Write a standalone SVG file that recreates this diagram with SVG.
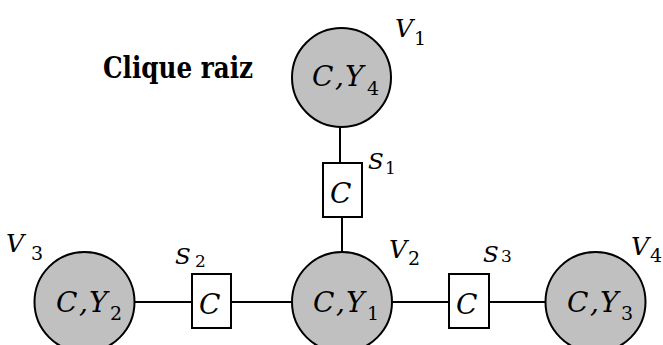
<svg xmlns="http://www.w3.org/2000/svg" width="663" height="345" viewBox="0 0 663 345">
<style>
.clique{fill:#c0c0c0;stroke:#000;stroke-width:2}
.sep{fill:#fff;stroke:#000;stroke-width:2}
.edge{stroke:#000;stroke-width:2;fill:none}
.m{font-style:italic;font-size:28px}
.lab{font-style:italic;font-size:25px}
.slab{font-style:italic;font-size:23px}
.n{font-style:normal}
.sub{font-style:normal;font-size:19px}
.ssub{font-style:normal;font-size:17px}
.title{font-weight:bold;font-size:29px}
</style>
<rect width="663" height="345" fill="#fff"/>
<g id="connectors">
<line class="edge" x1="340" y1="127" x2="340" y2="163"/>
<line class="edge" x1="342" y1="217" x2="342" y2="252"/>
<line class="edge" x1="134" y1="302" x2="192" y2="302"/>
<line class="edge" x1="231" y1="302" x2="292" y2="302"/>
<line class="edge" x1="392" y1="302" x2="449" y2="302"/>
<line class="edge" x1="489" y1="302" x2="546" y2="302"/>
</g>
<g font-family="DejaVu Serif, serif" fill="#000">
<text class="title" x="103" y="78" textLength="150" lengthAdjust="spacingAndGlyphs">Clique raiz</text>
<g id="V1">
<circle class="clique" cx="341.5" cy="77.5" r="49.5"/>
<text class="m" x="312" y="86">C<tspan x="335">,</tspan><tspan x="345">Y</tspan><tspan class="sub" x="367" y="95">4</tspan></text>
<text class="lab" x="395" y="37">V</text>
<text class="sub" x="414" y="45">1</text>
</g>
<g id="V2">
<circle class="clique" cx="342" cy="302" r="50"/>
<text class="m" x="313" y="312">C<tspan x="336">,</tspan><tspan x="346">Y</tspan><tspan class="sub" x="367" y="320">1</tspan></text>
<text class="lab" x="389" y="258">V</text>
<text class="sub" x="408" y="265">2</text>
</g>
<g id="V3">
<circle class="clique" cx="84.5" cy="302" r="50"/>
<text class="m" x="56" y="312">C<tspan x="79">,</tspan><tspan x="89">Y</tspan><tspan class="sub" x="110" y="320">2</tspan></text>
<text class="lab" x="6" y="252">V</text>
<text class="sub" x="31" y="260">3</text>
</g>
<g id="V4">
<circle class="clique" cx="595.5" cy="302" r="50"/>
<text class="m" x="567" y="312">C<tspan x="590">,</tspan><tspan x="600">Y</tspan><tspan class="sub" x="621" y="320">3</tspan></text>
<text class="lab" x="631" y="255">V</text>
<text class="sub" x="650" y="262">4</text>
</g>
<g id="S1">
<rect class="sep" x="323" y="163" width="39" height="54"/>
<text class="m" x="330" y="203">C</text>
<text class="slab" x="368" y="169">S</text>
<text class="ssub" x="385" y="174">1</text>
</g>
<g id="S2">
<rect class="sep" x="192" y="274" width="39" height="54"/>
<text class="m" x="199" y="314">C</text>
<text class="slab" x="175" y="264">S</text>
<text class="ssub" x="195" y="267">2</text>
</g>
<g id="S3">
<rect class="sep" x="449" y="274" width="40" height="54"/>
<text class="m" x="456" y="314">C</text>
<text class="slab" x="483" y="262">S</text>
<text class="ssub" x="501" y="262">3</text>
</g>
</g>
</svg>
